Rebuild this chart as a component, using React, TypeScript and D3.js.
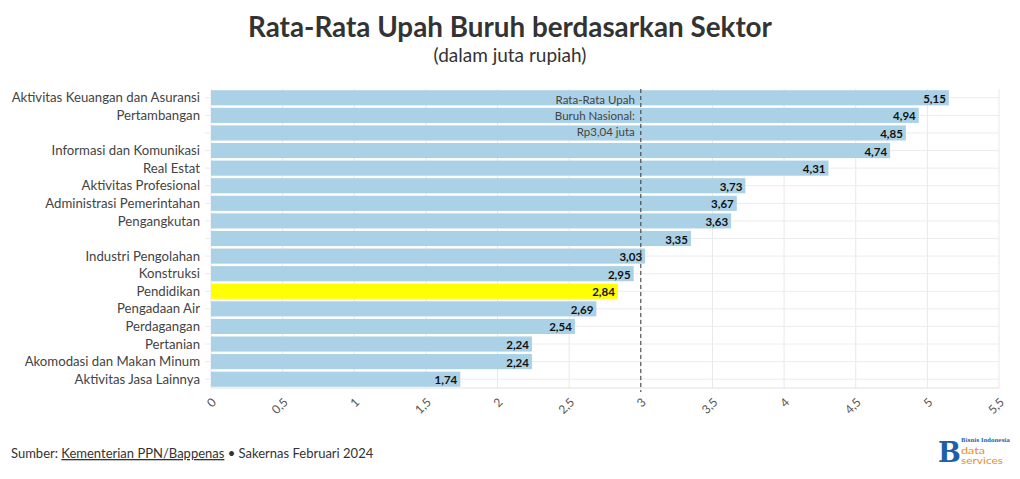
import React from "react";
import * as d3 from "d3";

const categories = [
  "Aktivitas Keuangan dan Asuransi",
  "Pertambangan",
  "",
  "Informasi dan Komunikasi",
  "Real Estat",
  "Aktivitas Profesional",
  "Administrasi Pemerintahan",
  "Pengangkutan",
  "",
  "Industri Pengolahan",
  "Konstruksi",
  "Pendidikan",
  "Pengadaan Air",
  "Perdagangan",
  "Pertanian",
  "Akomodasi dan Makan Minum",
  "Aktivitas Jasa Lainnya",
];
const values = [5.15, 4.94, 4.85, 4.74, 4.31, 3.73, 3.67, 3.63, 3.35, 3.03, 2.95, 2.84, 2.69, 2.54, 2.24, 2.24, 1.74];
const highlighted = ["Pendidikan"];
const xTicks = [0, 0.5, 1, 1.5, 2, 2.5, 3, 3.5, 4, 4.5, 5, 5.5];
const nationalAvgLine = 3;
const annotationLines = ["Rata-Rata Upah", "Buruh Nasional:", "Rp3,04 juta"];

const W = 1020;
const H = 479;
const FONT = "'Source Sans Pro', Lato, 'Noto Sans', sans-serif";

export default function App() {
  const x = d3.scaleLinear().domain([0, 5.5]).range([211, 999]);
  const y = d3
    .scaleBand<number>()
    .domain(d3.range(categories.length))
    .range([89, 388])
    .paddingInner(0.14)
    .paddingOuter(0.07);
  const fmt = (v: number) => d3.format(".2f")(v).replace(".", ",");
  const tickFmt = (v: number) => String(v).replace(".", ",");
  const bw = y.bandwidth();

  return (
    <svg width={W} height={H} style={{ position: "absolute", left: 0, top: 0, background: "#fff" }} fontFamily={FONT}>
      <text x={510} y={37} textAnchor="middle" fontSize={27.8} fontWeight={700} fill="#333">
        Rata-Rata Upah Buruh berdasarkan Sektor
      </text>
      <text x={510} y={62} textAnchor="middle" fontSize={19} fill="#333">
        (dalam juta rupiah)
      </text>

      {/* vertical grid */}
      {xTicks.map((t) => (
        <line key={"g" + t} x1={x(t)} x2={x(t)} y1={89} y2={388} stroke="#e8e8e8" strokeWidth={1} />
      ))}
      {/* horizontal grid at category centers */}
      {categories.map((_, i) => (
        <line
          key={"h" + i}
          x1={205}
          x2={999}
          y1={y(i)! + bw / 2}
          y2={y(i)! + bw / 2}
          stroke="#ececec"
          strokeWidth={1}
        />
      ))}
      <line x1={211} x2={999} y1={388} y2={388} stroke="#e0e0e0" />

      {/* bars */}
      {values.map((v, i) => (
        <rect
          key={"b" + i}
          x={x(0)}
          y={y(i)}
          width={x(v) - x(0)}
          height={bw}
          fill={highlighted.includes(categories[i]) ? "#ffff00" : "#abd1e6"}
        />
      ))}

      {/* category labels */}
      {categories.map((c, i) => (
        <text
          key={"c" + i}
          x={200}
          y={y(i)! + bw / 2}
          dy="0.35em"
          textAnchor="end"
          fontSize={13.2}
          fill="#444"
        >
          {c}
        </text>
      ))}

      {/* value labels */}
      {values.map((v, i) => (
        <text
          key={"v" + i}
          x={x(v) - 3}
          y={y(i)! + bw / 2 + 1}
          dy="0.35em"
          textAnchor="end"
          fontSize={11.5}
          fontWeight={700}
          fill="#111"
        >
          {fmt(v)}
        </text>
      ))}

      {/* national average */}
      <line
        x1={x(nationalAvgLine)}
        x2={x(nationalAvgLine)}
        y1={89}
        y2={392}
        stroke="#333"
        strokeWidth={1}
        strokeDasharray="4,3"
      />
      {annotationLines.map((l, i) => (
        <text key={"a" + i} x={x(nationalAvgLine) - 6} y={104 + i * 16} textAnchor="end" fontSize={11.5} fill="#444">
          {l}
        </text>
      ))}

      {/* x ticks */}
      {xTicks.map((t) => (
        <text
          key={"t" + t}
          transform={`translate(${x(t) + 3},${400}) rotate(-45)`}
          textAnchor="end"
          dy="0.35em"
          fontSize={12}
          fill="#555"
        >
          {tickFmt(t)}
        </text>
      ))}

      {/* footer */}
      <text x={11} y={458} fontSize={13} fill="#333">
        Sumber:{" "}
        <tspan textDecoration="underline">Kementerian PPN/Bappenas</tspan> • Sakernas Februari 2024
      </text>

      {/* logo */}
      <g>
        <text x={938} y={462} fontSize={27} fontWeight={700} fontFamily="'DejaVu Serif', serif" fill="#1f5ea8">
          B
        </text>
        <text
          x={961}
          y={442}
          fontSize={5.5}
          fontWeight={700}
          fontFamily="'DejaVu Serif', serif"
          fill="#1f5ea8"
          textLength={49}
          lengthAdjust="spacingAndGlyphs"
        >
          Bisnis Indonesia
        </text>
        <text x={961} y={454} fontSize={10} fill="#f08a24" textLength={24} lengthAdjust="spacingAndGlyphs">
          data
        </text>
        <text x={961} y={464} fontSize={10} fill="#f08a24" textLength={42} lengthAdjust="spacingAndGlyphs">
          services
        </text>
      </g>
    </svg>
  );
}
